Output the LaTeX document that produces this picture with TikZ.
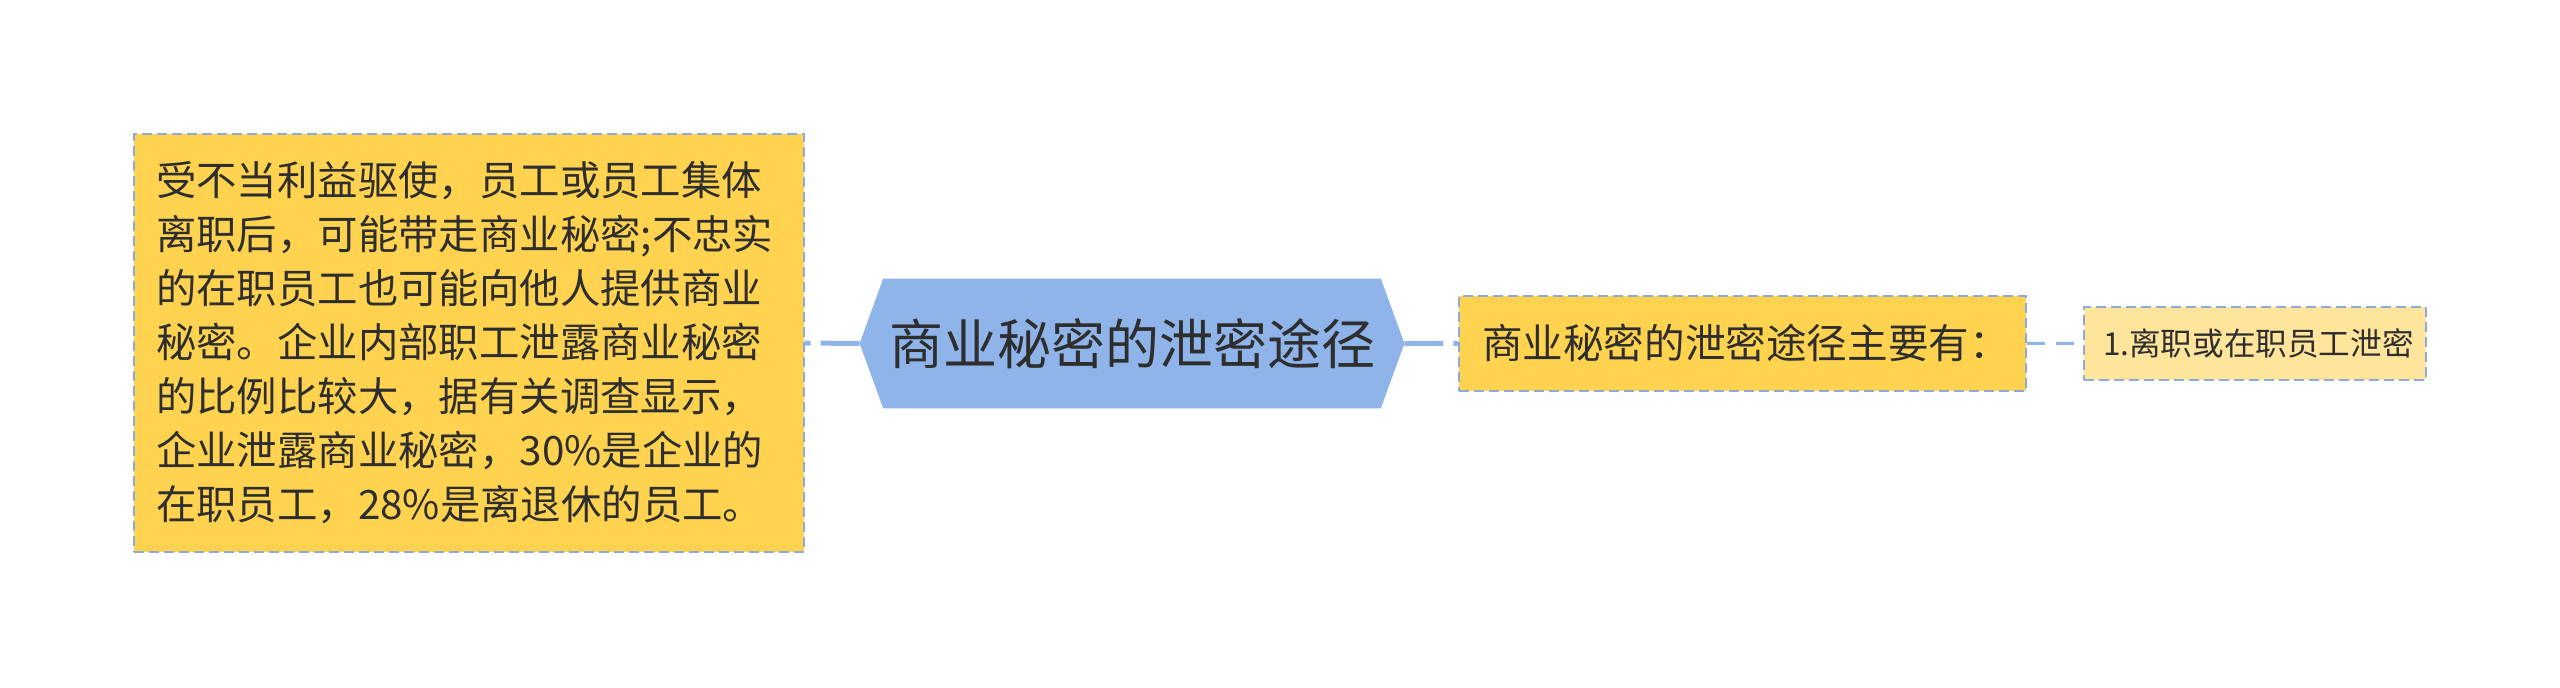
\documentclass[tikz,border=0pt]{standalone}
\usepackage{fontspec}
\setmainfont{Noto Sans CJK SC}
\usetikzlibrary{backgrounds,calc}
\definecolor{yfill}{HTML}{FFD34F}
\definecolor{ylight}{HTML}{FFE59B}
\definecolor{hexfill}{HTML}{8FB4EA}
\definecolor{bordc}{HTML}{8EAADB}
\definecolor{linec}{HTML}{8FB4EA}
\definecolor{txtc}{HTML}{2E2E2E}
\tikzset{
  ybox/.style={draw=bordc, line width=1pt, dash pattern=on 5pt off 2.5pt, fill=yfill, text=txtc, inner sep=0pt},
  lbox/.style={ybox, fill=ylight},
  thickconn/.style={draw=linec, line width=2.5pt, dash pattern=on 19.5pt off 5pt},
  thinconn/.style={draw=linec, line width=1.5pt, dash pattern=on 9pt off 5.5pt},
}
\begin{document}
\begin{tikzpicture}[x=0.5pt,y=-0.5pt]
\useasboundingbox (0,0) rectangle (2560,687);
% left box
\node[ybox, minimum width=335pt, minimum height=209pt, text width=313pt, align=left,
      font=\fontsize{20.2}{27}\selectfont] (L) at (469,343) {受不当利益驱使，员工或员工集体\\
离职后，可能带走商业秘密;不忠实\\
的在职员工也可能向他人提供商业\\
秘密。企业内部职工泄露商业秘密\\
的比例比较大，据有关调查显示，\\
企业泄露商业秘密，30\%是企业的\\
在职员工，28\%是离退休的员工。};
% center node
\node[minimum width=272pt, minimum height=64.5pt, inner sep=0pt, text=txtc,
      font=\fontsize{27}{32}\selectfont] (C) at (1132,343.5) {商业秘密的泄密途径};
\begin{scope}[on background layer]
\fill[hexfill] (C.west) -- ([xshift=11.8pt]C.north west) -- ([xshift=-11.8pt]C.north east)
  -- (C.east) -- ([xshift=-11.8pt]C.south east) -- ([xshift=11.8pt]C.south west) -- cycle;
\end{scope}
% right box 1
\node[ybox, minimum width=283.5pt, minimum height=47.3pt, text width=260.5pt, align=left,
      font=\fontsize{20.3}{24}\selectfont] (B) at (1742.5,343.3) {商业秘密的泄密途径主要有：};
% small box
\node[lbox, minimum width=171pt, minimum height=36.5pt, text width=152pt, align=left,
      font=\fontsize{15.8}{19}\selectfont] (S) at (2255,343.5) {1.离职或在职员工泄密};
% connectors
\draw[thickconn] (C.west) -- (L.east);
\draw[thickconn] (C.east) -- (B.west);
\draw[thinconn] (B.east) -- (S.west);
\end{tikzpicture}
\end{document}
